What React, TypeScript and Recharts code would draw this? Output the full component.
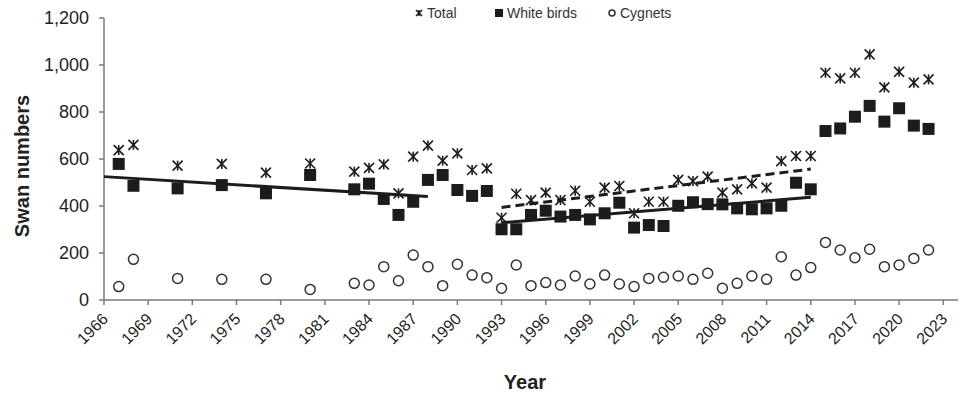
import React from 'react';
import { ScatterChart, Scatter, XAxis, YAxis, Label } from 'recharts';

// survey years (gaps before 1983)
const years = [
  1967, 1968, 1971, 1974, 1977, 1980, 1983, 1984, 1985, 1986, 1987, 1988, 1989, 1990,
  1991, 1992, 1993, 1994, 1995, 1996, 1997, 1998, 1999, 2000, 2001, 2002, 2003, 2004,
  2005, 2006, 2007, 2008, 2009, 2010, 2011, 2012, 2013, 2014, 2015, 2016, 2017, 2018,
  2019, 2020, 2021, 2022,
];

const total = [
  638, 660, 572, 579, 542, 581, 546, 562, 577, 454, 610, 657, 593, 624,
  553, 560, 350, 452, 425, 457, 425, 465, 418, 478, 485, 369, 418, 418,
  511, 506, 525, 457, 471, 496, 478, 591, 613, 613, 967, 943, 967, 1045,
  905, 971, 925, 939,
];

const whiteBirds = [
  579, 486, 475, 489, 454, 532, 471, 495, 430, 362, 418, 511, 532, 468,
  443, 464, 301, 301, 362, 380, 355, 362, 343, 369, 414, 308, 319, 315,
  401, 416, 408, 407, 390, 386, 390, 401, 499, 471, 719, 730, 780, 826,
  759, 816, 742, 728,
];

const cygnets = [
  57, 173, 92, 88, 88, 45, 71, 64, 142, 82, 191, 142, 61, 152,
  106, 95, 50, 149, 61, 74, 64, 102, 68, 106, 68, 57, 92, 97,
  102, 88, 114, 50, 71, 102, 88, 184, 106, 138, 245, 213, 180, 216,
  142, 149, 177, 213,
];

// linear trend lines (end points)
const trendWhiteEarly = [
  { year: 1966, value: 525 },
  { year: 1988, value: 440 },
];
const trendWhiteLate = [
  { year: 1993, value: 329 },
  { year: 2014, value: 437 },
];
const trendTotalLate = [
  { year: 1993, value: 394 },
  { year: 2014, value: 557 },
];

const xTicks = [1966, 1969, 1972, 1975, 1978, 1981, 1984, 1987, 1990, 1993, 1996, 1999, 2002, 2005, 2008, 2011, 2014, 2017, 2020, 2023];
const yTicks = [0, 200, 400, 600, 800, 1000, 1200];

const toPoints = (vals: number[]) => years.map((year, i) => ({ year, value: vals[i] }));

const INK = '#1c1c1c';
const AXIS = '#7a7a7a';
const FONT = '"Liberation Sans", Arial, sans-serif';

// excel-style star: an X with a vertical stroke through it
const StarMark = ({ cx, cy, s = 5 }: any) => (
  <g stroke={INK} strokeWidth={1.6}>
    <line x1={cx - s} y1={cy - s} x2={cx + s} y2={cy + s} />
    <line x1={cx - s} y1={cy + s} x2={cx + s} y2={cy - s} />
    <line x1={cx} y1={cy - s} x2={cx} y2={cy + s} />
  </g>
);

const SquareMark = ({ cx, cy, s = 6 }: any) => (
  <rect x={cx - s} y={cy - s} width={s * 2} height={s * 2} fill={INK} />
);

const CircleMark = ({ cx, cy, r = 5 }: any) => (
  <circle cx={cx} cy={cy} r={r} fill="#fff" stroke="#333" strokeWidth={1.5} />
);

const NoMark = () => <g />;

const YearTick = ({ x, y, payload }: any) => (
  <g transform={`translate(${x + 5},${y + 13})`}>
    <text textAnchor="end" transform="rotate(-45)" fontSize={16} fill="#222" fontFamily={FONT}>
      {payload.value}
    </text>
  </g>
);

const legendItems = [
  { name: 'Total', mark: 'star', x: 414 },
  { name: 'White birds', mark: 'square', x: 494 },
  { name: 'Cygnets', mark: 'circle', x: 607 },
];

function TopLegend() {
  return (
    <div style={{ position: 'absolute', left: 0, top: 5, width: 960, height: 22, fontFamily: FONT, fontSize: 14, color: '#333' }}>
      {legendItems.map((it) => (
        <div key={it.name} style={{ position: 'absolute', left: it.x, top: 0, display: 'flex', alignItems: 'center', gap: 3 }}>
          <svg width={10} height={10}>
            {it.mark === 'star' && <StarMark cx={5} cy={5} s={3} />}
            {it.mark === 'square' && <SquareMark cx={5} cy={5} s={4} />}
            {it.mark === 'circle' && <CircleMark cx={5} cy={5} r={3} />}
          </svg>
          <span>{it.name}</span>
        </div>
      ))}
    </div>
  );
}

export default function App() {
  return (
    <div style={{ position: 'absolute', left: 0, top: 0, width: 960, height: 395, background: '#fff' }}>
      <ScatterChart width={960} height={395} margin={{ top: 18, right: 2, bottom: 0, left: 0 }}>
        <XAxis
          type="number"
          dataKey="year"
          domain={[1966, 2024]}
          ticks={xTicks}
          interval={0}
          stroke={AXIS}
          strokeWidth={1.5}
          tickSize={5}
          tick={<YearTick />}
          height={95}
        >
          <Label
            content={() => (
              <text x={525} y={389} textAnchor="middle" fontSize={20} fontWeight="bold" fill="#222" fontFamily={FONT}>
                Year
              </text>
            )}
          />
        </XAxis>
        <YAxis
          type="number"
          dataKey="value"
          domain={[0, 1200]}
          ticks={yTicks}
          width={104}
          stroke={AXIS}
          strokeWidth={1.5}
          tickSize={5}
          tickMargin={10}
          tick={{ fontSize: 18, fill: '#222', fontFamily: FONT }}
          tickFormatter={(v: number) => v.toLocaleString('en-US')}
        >
          <Label
            content={() => (
              <text
                x={22}
                y={166}
                transform="rotate(-90 22 166)"
                textAnchor="middle"
                dominantBaseline="central"
                fontSize={20}
                fontWeight="bold"
                fill="#222"
                fontFamily={FONT}
              >
                Swan numbers
              </text>
            )}
          />
        </YAxis>
        <Scatter name="Cygnets" data={toPoints(cygnets)} shape={<CircleMark />} isAnimationActive={false} />
        <Scatter name="White birds" data={toPoints(whiteBirds)} shape={<SquareMark />} isAnimationActive={false} />
        <Scatter name="Total" data={toPoints(total)} shape={<StarMark />} isAnimationActive={false} />
        <Scatter data={trendWhiteEarly} line={{ stroke: INK, strokeWidth: 3 }} shape={<NoMark />} isAnimationActive={false} />
        <Scatter data={trendWhiteLate} line={{ stroke: INK, strokeWidth: 3 }} shape={<NoMark />} isAnimationActive={false} />
        <Scatter
          data={trendTotalLate}
          line={{ stroke: INK, strokeWidth: 3, strokeDasharray: '9 5' }}
          shape={<NoMark />}
          isAnimationActive={false}
        />
      </ScatterChart>
      <TopLegend />
    </div>
  );
}
